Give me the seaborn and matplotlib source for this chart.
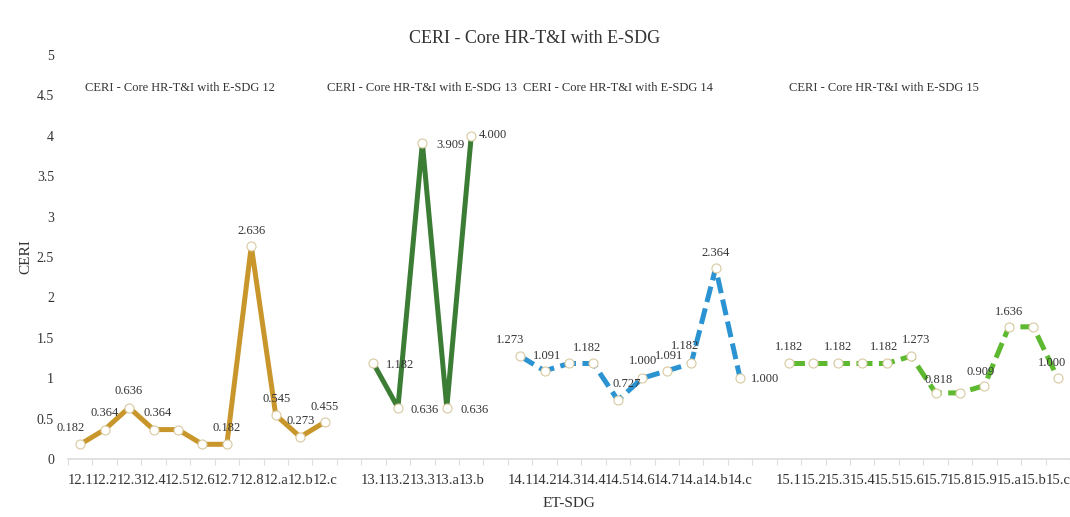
import numpy as np
import pandas as pd
import seaborn as sns
import matplotlib.pyplot as plt

# CERI values per E-SDG target
codes_12 = ["12.1", "12.2", "12.3", "12.4", "12.5", "12.6", "12.7", "12.8", "12.a", "12.b", "12.c"]
ceri_12 = [0.182, 0.364, 0.636, 0.364, 0.364, 0.182, 0.182, 2.636, 0.545, 0.273, 0.455]
codes_13 = ["13.1", "13.2", "13.3", "13.a", "13.b"]
ceri_13 = [1.182, 0.636, 3.909, 0.636, 4.000]
codes_14 = ["14.1", "14.2", "14.3", "14.4", "14.5", "14.6", "14.7", "14.a", "14.b", "14.c"]
ceri_14 = [1.273, 1.091, 1.182, 1.182, 0.727, 1.000, 1.091, 1.182, 2.364, 1.000]
codes_15 = ["15.1", "15.2", "15.3", "15.4", "15.5", "15.6", "15.7", "15.8", "15.9", "15.a", "15.b", "15.c"]
ceri_15 = [1.182, 1.182, 1.182, 1.182, 1.182, 1.273, 0.818, 0.818, 0.909, 1.636, 1.636, 1.000]

groups = [("12", codes_12, ceri_12), ("13", codes_13, ceri_13),
          ("14", codes_14, ceri_14), ("15", codes_15, ceri_15)]

# which points carry a value label, and where it sits (pixel offsets)
label_offsets = {
    "12": [(-10, 16), (0, 17), (0, 17), (4, 17), None, None, (0, 16), (0, 15), (1, 16), (1, 16), (0, 15)],
    "13": [(27, -2), (27, -2), (28, -2), (28, -2), (22, 1)],
    "14": [(-10, 16), (2, 15), None, (-6, 15), (9, 16), (1, 17), (2, 15), (-6, 17), (0, 15), (25, -1)],
    "15": [(0, 16), None, (0, 16), None, (-3, 16), (5, 16), (3, 13), None, (-4, 14), (0, 15), None, (-6, 15)],
}

styles = {
    "12": dict(color="#C8962B", dashes=""),
    "13": dict(color="#3C7D35", dashes=""),
    "14": dict(color="#2B93D1", dashes=(3.2, 1.3)),
    "15": dict(color="#5DB92F", dashes=(3.2, 1.3)),
}

# lay out all targets on one axis, one empty slot between groups
rows = []
pos = 0
for g, codes, vals in groups:
    for c, v in zip(codes, vals):
        rows.append({"group": g, "code": c, "ceri": v, "pos": pos})
        pos += 1
    pos += 1
df = pd.DataFrame(rows)

sns.set_theme(style="white")
plt.rcParams["font.family"] = ["Liberation Serif", "DejaVu Serif"]

fig = plt.figure(figsize=(10.7, 5.17), dpi=100)
ax = fig.add_axes([68 / 1070, 58 / 517, 1 - 68 / 1070, (459 - 55) / 517])

for g, codes, vals in groups:
    sub = df[df["group"] == g]
    st = styles[g]
    sns.lineplot(data=sub, x="pos", y="ceri", ax=ax, color=st["color"], lw=3.6,
                 marker="o", markersize=6.5, markerfacecolor="white",
                 markeredgecolor="#D8C9A0", markeredgewidth=0.8)
    line = ax.lines[-1]
    if st["dashes"]:
        line.set_dashes(st["dashes"])
    for (x, y), off in zip(sub[["pos", "ceri"]].values, label_offsets[g]):
        if off is None:
            continue
        ax.annotate(f"{y:.3f}", (x, y), xytext=off, textcoords="offset pixels",
                    ha="center", va="center", fontsize=9, color="#333333")

ax.set_xlim(-0.5, 40.5)
ax.set_ylim(0, 5)
ax.set_yticks(np.arange(0, 5.01, 0.5))
ax.set_yticklabels(["0", "0.5", "1", "1.5", "2", "2.5", "3", "3.5", "4", "4.5", "5"])
ax.set_xticks(df["pos"])
ax.set_xticklabels(df["code"], fontsize=10.5, color="#333333")
ax.set_xticks(np.arange(-0.5, 41, 1), minor=True)
ax.tick_params(axis="x", which="major", length=0, pad=11)
ax.tick_params(axis="x", which="minor", length=4, color="#DDDDDD", width=0.8, bottom=True)
ax.tick_params(axis="y", length=0, pad=10, labelsize=10, labelcolor="#333333")
for s in ["top", "right", "left"]:
    ax.spines[s].set_visible(False)
ax.spines["bottom"].set_color("#DDDDDD")

ax.set_xlabel("ET-SDG", fontsize=11, color="#333333", labelpad=7)
ax.set_ylabel("CERI", fontsize=11, color="#333333", labelpad=3)

# group captions
for xc, g in [(4.1, "12"), (14.0, "13"), (22.0, "14"), (32.9, "15")]:
    ax.text(xc, 4.59, f"CERI - Core HR-T&I with E-SDG {g}", ha="center", va="center",
            fontsize=9, color="#333333")

fig.suptitle("CERI - Core HR-T&I with E-SDG", y=0.942, fontsize=13, color="#333333")

plt.savefig("out.png", dpi=100)
